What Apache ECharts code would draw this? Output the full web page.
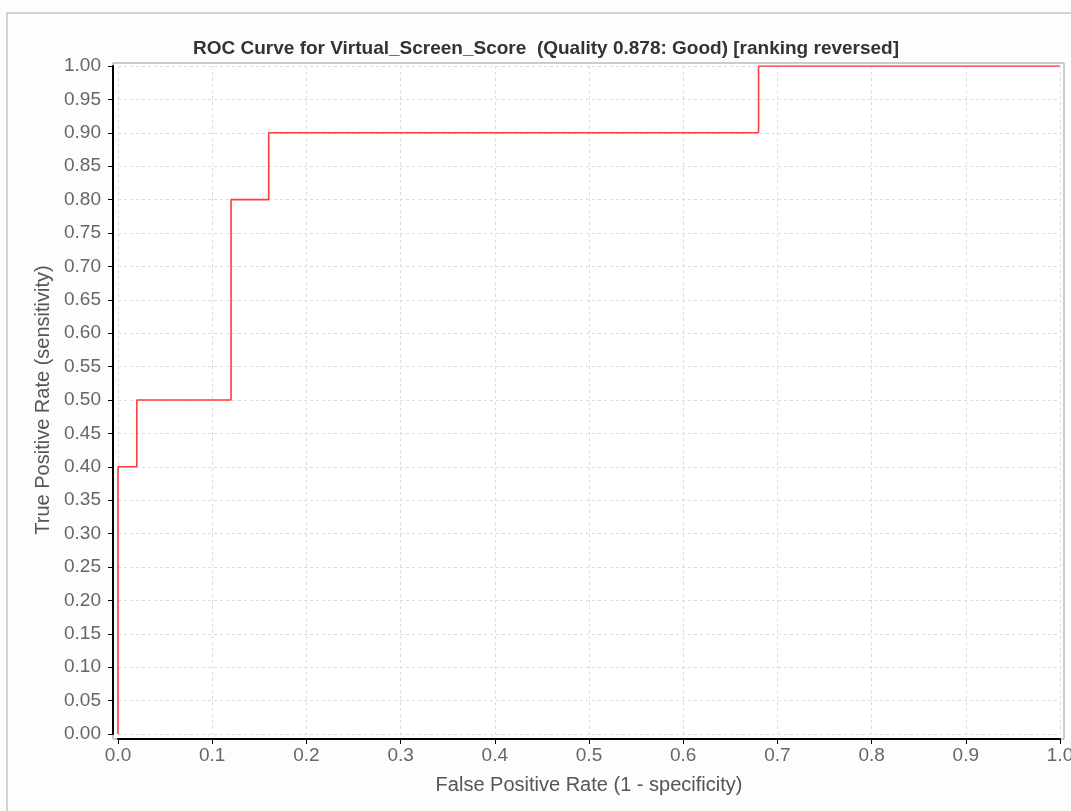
<!DOCTYPE html>
<html>
<head>
<meta charset="utf-8">
<script src="https://cdn.jsdelivr.net/npm/echarts@6/dist/echarts.min.js"></script>
<style>
html,body{margin:0;padding:0;background:#fdfdfd;}
#chart{width:1071px;height:811px;}
</style>
</head>
<body>
<div id="chart"></div>
<script>
const chartTitle = 'ROC Curve for Virtual_Screen_Score  (Quality 0.878: Good) [ranking reversed]';
const xAxisName = 'False Positive Rate (1 - specificity)';
const yAxisName = 'True Positive Rate (sensitivity)';
const fpr = [0, 0, 0.02, 0.02, 0.12, 0.12, 0.16, 0.16, 0.68, 0.68, 1.0];
const tpr = [0, 0.4, 0.4, 0.5, 0.5, 0.8, 0.8, 0.9, 0.9, 1.0, 1.0];

const chart = echarts.init(document.getElementById('chart'), null, {renderer: 'canvas'});
const labelFont = 'Liberation Sans, Arial, sans-serif';
const option = {
  animation: false,
  backgroundColor: '#fdfdfd',
  title: {
    text: chartTitle,
    left: 188,
    top: 34,
    textStyle: {fontFamily: labelFont, fontWeight: 'bold', fontSize: 19, color: '#333'}
  },
  grid: [
    {left: 7, top: 13, width: 1100, height: 830, show: true, borderColor: '#a8a8a8', borderWidth: 1, backgroundColor: 'transparent', outerBoundsMode: 'none'},
    {left: 113, top: 63, right: 7, bottom: 72, show: true, borderColor: '#999', borderWidth: 1, backgroundColor: '#ffffff', outerBoundsMode: 'none'},
    {left: 118, top: 66, right: 11, bottom: 77, outerBoundsMode: 'none'}
  ],
  xAxis: [
    {gridIndex: 0, type: 'value', show: false, min: 0, max: 1},
    {gridIndex: 1, type: 'value', show: false, min: 0, max: 1},
    {
      gridIndex: 2, type: 'value', min: 0, max: 1, interval: 0.1, offset: 5,
      name: xAxisName, nameLocation: 'middle', nameGap: 36,
      nameTextStyle: {fontFamily: labelFont, fontSize: 20, color: '#555'},
      axisLine: {show: true, onZero: false, lineStyle: {color: '#000', width: 2}},
      axisTick: {show: true, length: 5, lineStyle: {color: '#000', width: 1}},
      axisLabel: {fontFamily: labelFont, fontSize: 19, color: '#666', margin: 7,
        formatter: v => v.toFixed(1)},
      splitLine: {show: true, lineStyle: {color: '#dcdcdc', type: [3, 3], width: 1}}
    }
  ],
  yAxis: [
    {gridIndex: 0, type: 'value', show: false, min: 0, max: 1},
    {gridIndex: 1, type: 'value', show: false, min: 0, max: 1},
    {
      gridIndex: 2, type: 'value', min: 0, max: 1, interval: 0.05, offset: 5,
      name: yAxisName, nameLocation: 'middle', nameGap: 60,
      nameTextStyle: {fontFamily: labelFont, fontSize: 20, color: '#555'},
      axisLine: {show: true, onZero: false, lineStyle: {color: '#000', width: 2}},
      axisTick: {show: true, length: 5, lineStyle: {color: '#000', width: 1}},
      axisLabel: {fontFamily: labelFont, fontSize: 19, color: '#666', margin: 12,
        formatter: v => v.toFixed(2)},
      splitLine: {show: true, lineStyle: {color: '#dcdcdc', type: [3, 3], width: 1}}
    }
  ],
  series: [{
    type: 'line',
    xAxisIndex: 2, yAxisIndex: 2,
    data: fpr.map((x, i) => [x, tpr[i]]),
    showSymbol: false,
    symbol: 'none',
    lineStyle: {color: '#ff3b3b', width: 1.6},
    z: 5
  }]
};
chart.setOption(option);
</script>
</body>
</html>
